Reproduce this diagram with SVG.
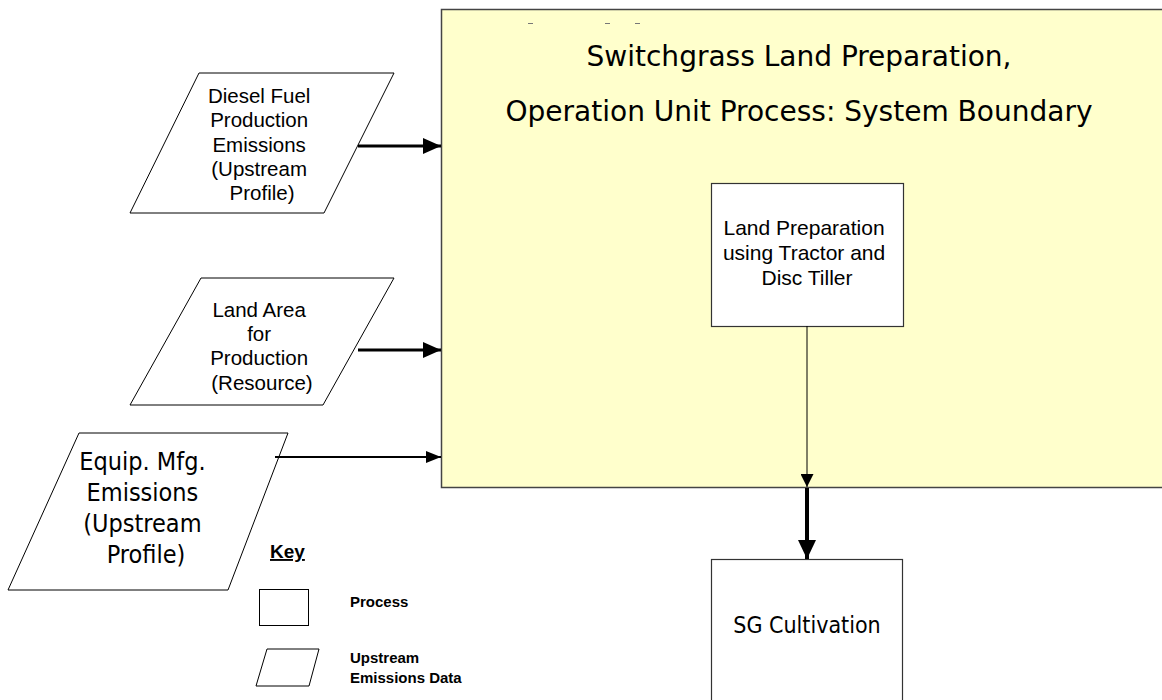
<svg xmlns="http://www.w3.org/2000/svg" width="1162" height="700" viewBox="0 0 1162 700">
<defs>
<marker id="ahBig" markerUnits="userSpaceOnUse" markerWidth="19" markerHeight="18" refX="19" refY="9" orient="auto"><path d="M0,0 L19,9 L0,18 Z" fill="#000"/></marker>
<marker id="ahMed" markerUnits="userSpaceOnUse" markerWidth="18" markerHeight="16" refX="18" refY="8" orient="auto"><path d="M0,0 L18,8 L0,16 Z" fill="#000"/></marker>
<marker id="ahSm" markerUnits="userSpaceOnUse" markerWidth="15" markerHeight="12" refX="15" refY="6" orient="auto"><path d="M0,0 L15,6 L0,12 Z" fill="#000"/></marker>
<marker id="ahThin" markerUnits="userSpaceOnUse" markerWidth="13" markerHeight="13" refX="13" refY="6.5" orient="auto"><path d="M0,0 L13,6.5 L0,13 Z" fill="#000"/></marker>
</defs>
<style>
.sans{font-family:"Liberation Sans",Arial,sans-serif;fill:#000;}
.tah{font-family:"DejaVu Sans Condensed","DejaVu Sans",sans-serif;font-stretch:condensed;fill:#000;}
.shape{fill:#fff;stroke:#000;stroke-width:1;}
.box{fill:#fff;stroke:#333;stroke-width:1.2;}
.conn{stroke:#000;fill:none;}
</style>
<rect width="1162" height="700" fill="#fff"/>

<g id="boundary">
<rect x="441.5" y="9.5" width="740" height="478" fill="#FFFFCC" stroke="#444" stroke-width="1.5"/>
<g stroke="#777" stroke-width="1">
<line x1="528" y1="23.5" x2="533" y2="23.5"/>
<line x1="605" y1="23.5" x2="610" y2="23.5"/>
<line x1="635" y1="23.5" x2="640" y2="23.5"/>
</g>
<text class="tah" x="799" y="66" font-size="29" text-anchor="middle" textLength="425" lengthAdjust="spacingAndGlyphs">Switchgrass Land Preparation,</text>
<text class="tah" x="799" y="121" font-size="29" text-anchor="middle" textLength="587" lengthAdjust="spacingAndGlyphs">Operation Unit Process: System Boundary</text>
</g>

<g id="diesel">
<polygon class="shape" points="199,73 394,73 324,213 130,213"/>
<text class="sans" font-size="20.5" text-anchor="middle">
<tspan x="262" y="103">Diesel Fuel</tspan>
<tspan x="262" y="127">Production</tspan>
<tspan x="262" y="152">Emissions</tspan>
<tspan x="262" y="176">(Upstream</tspan>
<tspan x="262" y="200">Profile)</tspan>
</text>
</g>

<g id="land">
<polygon class="shape" points="201,278 394,278 323,405 130,405"/>
<text class="sans" font-size="20.5" text-anchor="middle">
<tspan x="262" y="317">Land Area</tspan>
<tspan x="262" y="341">for</tspan>
<tspan x="262" y="365">Production</tspan>
<tspan x="262" y="390">(Resource)</tspan>
</text>
</g>

<g id="equip">
<polygon class="shape" points="79,433 288,433 228,590 8,590"/>
<text class="tah" font-size="25" text-anchor="middle">
<tspan x="146" y="470">Equip. Mfg.</tspan>
<tspan x="146" y="501">Emissions</tspan>
<tspan x="146" y="532">(Upstream</tspan>
<tspan x="146" y="563">Profile)</tspan>
</text>
</g>

<g id="landprep">
<rect class="box" x="711.5" y="183.5" width="192" height="143"/>
<text class="sans" font-size="21" text-anchor="middle">
<tspan x="807" y="235">Land Preparation</tspan>
<tspan x="807" y="260">using Tractor and</tspan>
<tspan x="807" y="285">Disc Tiller</tspan>
</text>
</g>

<g id="sgcult">
<rect class="box" x="711.5" y="559.5" width="191" height="160"/>
<text class="tah" x="807" y="633" font-size="23" text-anchor="middle">SG Cultivation</text>
</g>

<g id="key">
<text class="sans" x="270" y="558" font-size="19" font-weight="bold" text-decoration="underline">Key</text>
<rect class="shape" x="259.5" y="589.5" width="49" height="36"/>
<text class="sans" x="350" y="607" font-size="15" font-weight="bold">Process</text>
<polygon class="shape" points="267,649 319,649 309,686 256,686"/>
<text class="sans" font-size="15" font-weight="bold">
<tspan x="350" y="663">Upstream</tspan>
<tspan x="350" y="683">Emissions Data</tspan>
</text>
</g>

<g id="connectors">
<line class="conn" x1="358" y1="146" x2="441" y2="146" stroke-width="3" marker-end="url(#ahMed)"/>
<line class="conn" x1="358" y1="350" x2="441" y2="350" stroke-width="3" marker-end="url(#ahMed)"/>
<line class="conn" x1="275" y1="457" x2="441" y2="457" stroke-width="2" marker-end="url(#ahSm)"/>
<line class="conn" x1="807" y1="326" x2="807" y2="487" stroke="#444" stroke-width="1" marker-end="url(#ahThin)"/>
<line class="conn" x1="807" y1="488" x2="807" y2="559" stroke-width="4" marker-end="url(#ahBig)"/>
</g>
</svg>
